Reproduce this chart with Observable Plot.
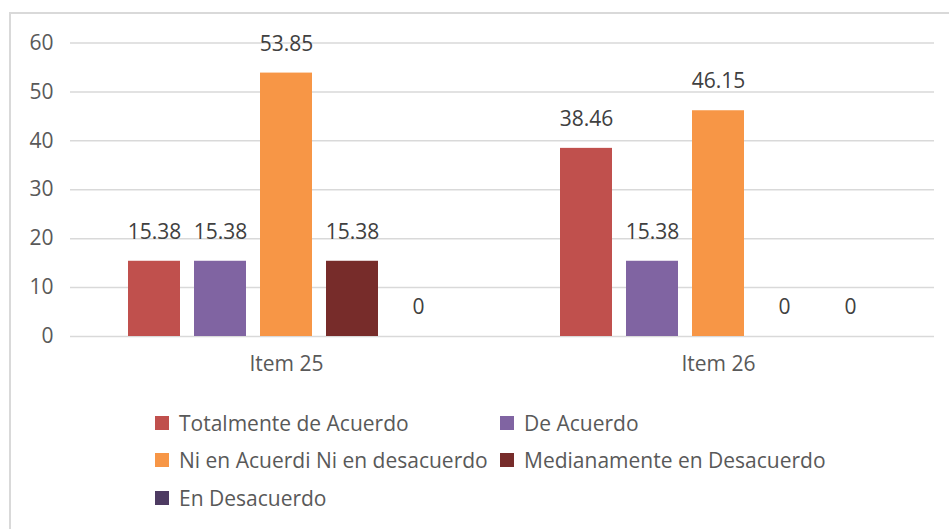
<!DOCTYPE html>
<html>
<head>
<meta charset="utf-8">
<script src="https://cdn.jsdelivr.net/npm/d3@7"></script>
<script src="https://cdn.jsdelivr.net/npm/@observablehq/plot@0.6"></script>
<style>
  html, body { margin: 0; padding: 0; background: #fff; overflow: hidden; }
  body { width: 949px; height: 529px; position: relative; font-family: "Open Sans", sans-serif; }
  #frame { position: absolute; left: 9px; top: 12px; width: 960px; height: 540px;
           border-top: 2px solid #d9d9d9; border-left: 2px solid #d9d9d9; pointer-events: none; }
  #chart { position: absolute; left: 0; top: 0; }
  #legend { position: absolute; left: 155px; top: 404px; display: grid;
            grid-template-columns: 345px auto; grid-auto-rows: 37.5px; align-items: center;
            color: #595959; font-size: 21px; }
  .item { display: flex; align-items: center; white-space: nowrap; }
  .sw { width: 14px; height: 14px; margin-right: 10px; flex: none; }
</style>
</head>
<body>
<div id="frame"></div>
<div id="chart"></div>
<div id="legend"></div>
<script>
const items = ["Item 25", "Item 26"];
const series = ["Totalmente de Acuerdo", "De Acuerdo", "Ni en Acuerdi Ni en desacuerdo", "Medianamente en Desacuerdo", "En Desacuerdo"];
const valuesItem25 = [15.38, 15.38, 53.85, 15.38, 0];
const valuesItem26 = [38.46, 15.38, 46.15, 0, 0];
const colors = ["#C0504D", "#8064A2", "#F79646", "#772C2A", "#4E3B62"];
const yTicks = [0, 10, 20, 30, 40, 50, 60];

const data = [];
series.forEach((s, i) => {
  data.push({item: items[0], series: s, value: valuesItem25[i]});
  data.push({item: items[1], series: s, value: valuesItem26[i]});
});

const chart = Plot.plot({
  width: 949,
  height: 385,
  marginLeft: 70,
  marginRight: 15,
  marginTop: 42.5,
  marginBottom: 49,
  style: {fontFamily: "'Open Sans', sans-serif", fontSize: "21px", color: "#595959", background: "transparent"},
  fx: {domain: items, padding: 0, label: null},
  x: {domain: series, paddingInner: 0.218, paddingOuter: 0.857, axis: null},
  y: {domain: [0, 60], label: null},
  color: {domain: series, range: colors},
  marks: [
    Plot.gridY(yTicks, {stroke: "#d9d9d9", strokeOpacity: 1, strokeWidth: 1.5}),
    Plot.axisY(yTicks, {tickSize: 0, tickPadding: 17, label: null, fill: "#595959", fontSize: 21}),
    Plot.axisFx({anchor: "bottom", tickSize: 0, tickPadding: 20, label: null, fill: "#595959", fontSize: 21}),
    Plot.barY(data, {fx: "item", x: "series", y: "value", fill: "series"}),
    Plot.text(data, {fx: "item", x: "series", y: "value", text: d => String(d.value), dy: -29, fill: "#404040", fontSize: 21})
  ]
});
document.getElementById("chart").appendChild(chart);

const legend = document.getElementById("legend");
series.forEach((s, i) => {
  const el = document.createElement("div");
  el.className = "item";
  const sw = document.createElement("span");
  sw.className = "sw";
  sw.style.background = colors[i];
  const t = document.createElement("span");
  t.textContent = s;
  el.appendChild(sw);
  el.appendChild(t);
  legend.appendChild(el);
});
</script>
</body>
</html>
